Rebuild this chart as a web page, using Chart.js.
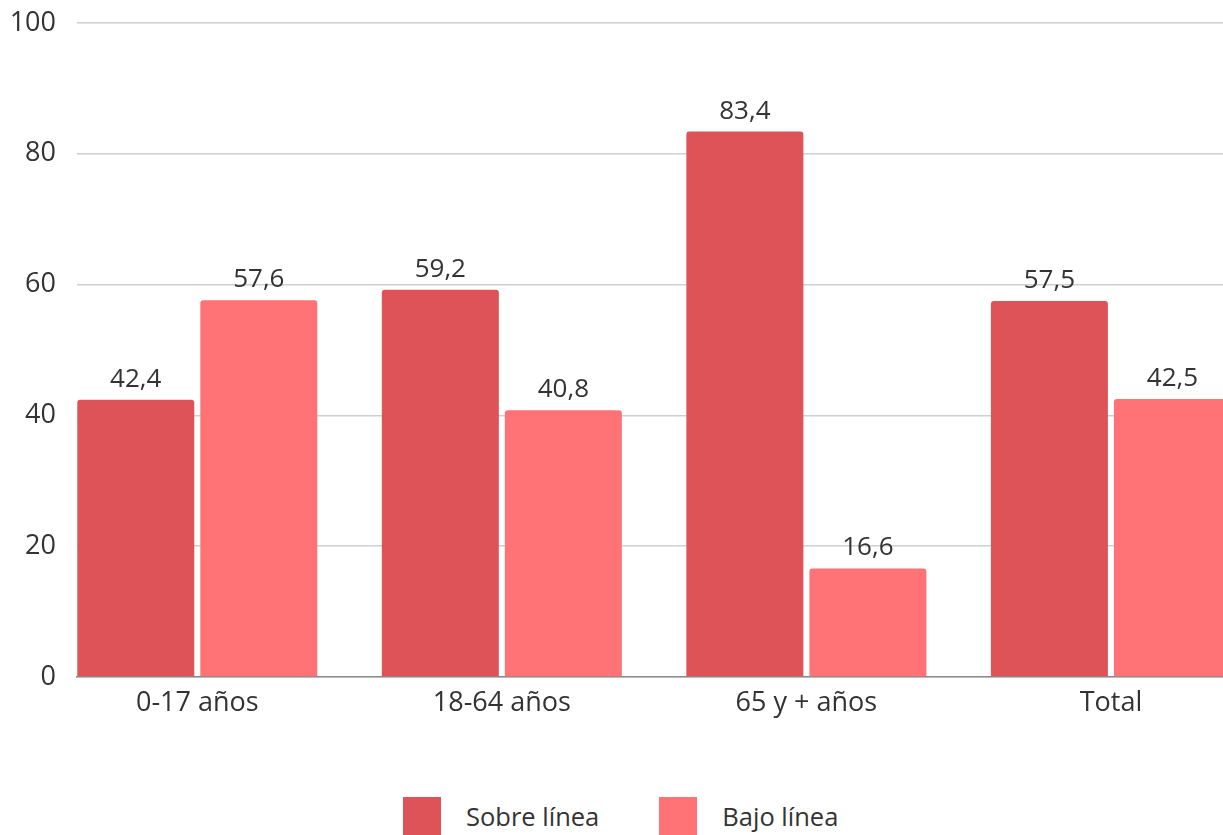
<!DOCTYPE html>
<html lang="es">
<head>
<meta charset="utf-8">
<script src="https://cdn.jsdelivr.net/npm/chart.js@4/dist/chart.umd.min.js"></script>
<style>
	html, body { margin: 0; padding: 0; background: #fff; }
	body { width: 1223px; height: 835px; position: relative; overflow: hidden; font-family: "Open Sans", sans-serif; }
	#wrap { position: absolute; left: 0; top: 0; width: 1223px; height: 720px; }
	#legend { position: absolute; left: 403px; top: 797px; display: flex; align-items: center; font-size: 25.5px; line-height: 30px; color: #333; }
	#legend .item { display: flex; align-items: center; margin-right: 60px; }
	#legend .box { width: 38px; height: 38px; margin-right: 25px; }
</style>
</head>
<body>
<div id="wrap"><canvas id="povertyChart"></canvas></div>
<div id="legend"></div>
<script>
var CATEGORIES = ['0-17 años', '18-64 años', '65 y + años', 'Total'];
var SOBRE_LINEA = [42.4, 59.2, 83.4, 57.5];
var BAJO_LINEA = [57.6, 40.8, 16.6, 42.5];
var Y_TICKS = [0, 20, 40, 60, 80, 100];

var COLORS = {
	dark: '#de5357',
	light: '#ff7276',
	text: '#333333',
	grid: '#cfcfcf',
	axis: '#8c8c8c'
};

function toPoints(values) {
	return values.map(function (v, i) {
		return { x: i, y: v };
	});
}

function decFormat(v) {
	return v.toFixed(1).replace('.', ',');
}

// numbers above every bar
var barValueLabels = {
	id: 'barValueLabels',
	afterDatasetsDraw: function (chart) {
		var ctx = chart.ctx;
		ctx.save();
		ctx.font = '26px "Open Sans"';
		ctx.fillStyle = COLORS.text;
		ctx.textAlign = 'center';
		ctx.textBaseline = 'alphabetic';
		chart.data.datasets.forEach(function (ds, di) {
			chart.getDatasetMeta(di).data.forEach(function (bar, i) {
				ctx.fillText(decFormat(ds.data[i].y), bar.x, bar.y - 13);
			});
		});
		ctx.restore();
	}
};

var povertyData = {
	datasets: [{
		label: 'Sobre línea',
		data: toPoints(SOBRE_LINEA),
		backgroundColor: COLORS.dark
	}, {
		label: 'Bajo línea',
		data: toPoints(BAJO_LINEA),
		backgroundColor: COLORS.light
	}]
};

var povertyOptions = {
	responsive: true,
	maintainAspectRatio: false,
	animation: false,
	categoryPercentage: 0.808,
	barPercentage: 0.951,
	borderRadius: { topLeft: 3, topRight: 3 },
	borderSkipped: 'bottom',
	layout: {
		padding: { left: 0, right: 0, top: 23, bottom: 0 }
	},
	scales: {
		x: {
			type: 'linear',
			offset: false,
			min: -0.395,
			max: 3.368,
			grid: { display: false, drawTicks: false },
			border: { display: true, color: COLORS.axis, width: 1.5 },
			afterBuildTicks: function (scale) {
				scale.ticks = CATEGORIES.map(function (c, i) {
					return { value: i };
				});
			},
			afterFit: function (scale) {
				scale.height = 43;
				scale.paddingLeft = 0;
				scale.paddingRight = 0;
			},
			ticks: {
				padding: 10,
				maxRotation: 0,
				autoSkip: false,
				color: COLORS.text,
				font: { family: 'Open Sans', size: 27 },
				callback: function (value) {
					return CATEGORIES[value];
				}
			}
		},
		y: {
			min: 0,
			max: 100,
			afterBuildTicks: function (scale) {
				scale.ticks = Y_TICKS.map(function (v) {
					return { value: v };
				});
			},
			afterFit: function (scale) {
				scale.width = 77;
				scale.paddingTop = 0;
				scale.paddingBottom = 0;
			},
			grid: { color: COLORS.grid, lineWidth: 1.5, drawTicks: false },
			border: { display: false },
			ticks: {
				padding: 21,
				color: COLORS.text,
				font: { family: 'Open Sans', size: 27 }
			}
		}
	},
	plugins: {
		legend: { display: false },
		tooltip: { enabled: false }
	}
};

var povertyChart = new Chart(document.getElementById('povertyChart'), {
	type: 'bar',
	data: povertyData,
	options: povertyOptions,
	plugins: [barValueLabels]
});

// legend under the chart
var legendEl = document.getElementById('legend');
povertyData.datasets.forEach(function (ds) {
	var item = document.createElement('div');
	item.className = 'item';
	var box = document.createElement('span');
	box.className = 'box';
	box.style.background = ds.backgroundColor;
	var txt = document.createElement('span');
	txt.textContent = ds.label;
	item.appendChild(box);
	item.appendChild(txt);
	legendEl.appendChild(item);
});
</script>
</body>
</html>
